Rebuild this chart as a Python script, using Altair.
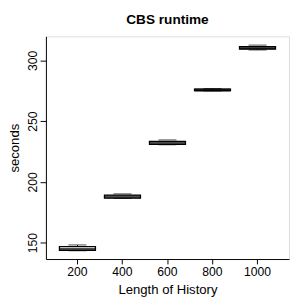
import altair as alt
import pandas as pd

lengths = ["200", "400", "600", "800", "1000"]
whisker_low = [143.4, 186.5, 230.6, 274.9, 308.6]
q1 = [143.8, 186.8, 231.0, 275.1, 309.4]
median = [144.5, 187.8, 232.0, 275.7, 310.4]
q3 = [146.8, 189.2, 233.4, 276.3, 311.4]
whisker_high = [148.2, 190.2, 234.6, 276.8, 312.6]

df = pd.DataFrame({
    "length": lengths,
    "wl": whisker_low,
    "q1": q1,
    "med": median,
    "q3": q3,
    "wh": whisker_high,
})

FONT = "Liberation Sans"

x = alt.X(
    "length:O",
    sort=lengths,
    scale=alt.Scale(paddingInner=0, paddingOuter=0.2),
    axis=alt.Axis(
        title="Length of History",
        labelAngle=0,
        labelFontSize=12.5,
        titleFontSize=13.5,
        titleFontWeight="normal",
        tickSize=5,
        labelPadding=2,
        titlePadding=5,
        domainColor="black",
        tickColor="black",
        labelColor="black",
        titleColor="black",
        labelFont=FONT,
        titleFont=FONT,
    ),
)

yscale = alt.Scale(domain=[136.6, 319.8], nice=False, zero=False)
yaxis = alt.Axis(
    title="seconds",
    values=[150, 200, 250, 300],
    labelAngle=270,
    labelAlign="center",
    labelBaseline="alphabetic",
    labelFontSize=12.5,
    titleFontSize=13.5,
    titleFontWeight="normal",
    tickSize=6,
    labelPadding=4,
    titlePadding=5,
    grid=False,
    domainColor="black",
    tickColor="black",
    labelColor="black",
    titleColor="black",
    labelFont=FONT,
    titleFont=FONT,
)

base = alt.Chart(df)

whiskers = base.mark_rule(color="black", strokeWidth=1, strokeDash=[3, 2]).encode(
    x=x, y=alt.Y("wl:Q", scale=yscale, axis=yaxis), y2="wh:Q"
)
boxes = base.mark_bar(
    width=alt.RelativeBandSize(0.8), fill="white", stroke="black", strokeWidth=1.3
).encode(x=x, y=alt.Y("q1:Q", scale=yscale), y2="q3:Q")
medians = base.mark_tick(color="black", size=37, thickness=3).encode(
    x=x, y=alt.Y("med:Q", scale=yscale)
)
caps_hi = base.mark_tick(color="black", size=18.5, thickness=1).encode(
    x=x, y=alt.Y("wh:Q", scale=yscale)
)
caps_lo = base.mark_tick(color="black", size=18.5, thickness=1).encode(
    x=x, y=alt.Y("wl:Q", scale=yscale)
)

chart = alt.layer(whiskers, boxes, medians, caps_hi, caps_lo).properties(
    width=250,
    height=229,
    autosize=alt.AutoSizeParams(type="none"),
    padding={"left": 39, "top": 25, "right": 1, "bottom": 39},
    title=alt.TitleParams(
        "CBS runtime", fontSize=14, fontWeight="bold", font=FONT,
        offset=10, anchor="middle", color="black",
    ),
).configure_view(stroke="#808080", strokeWidth=1).configure(background="white")

chart.save("out.html", embed_options={"renderer": "svg", "actions": False})
